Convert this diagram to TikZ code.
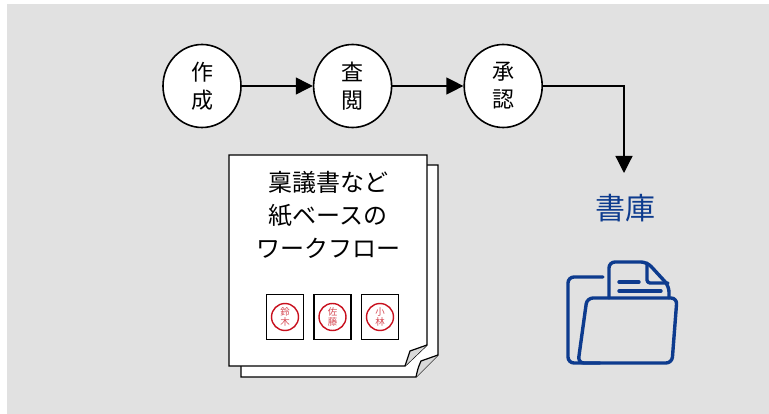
\documentclass[tikz,border=0pt]{standalone}
\usepackage{fontspec}
\setmainfont{Noto Sans CJK JP}
\usetikzlibrary{shapes.geometric, arrows.meta, positioning}
\definecolor{bggray}{HTML}{E1E1E1}
\definecolor{libblue}{HTML}{0D3B8E}
\definecolor{stampred}{HTML}{C8101E}
\tikzstyle{stage} = [ellipse, draw=black, line width=1.6pt, fill=white, minimum width=78pt, minimum height=83pt, inner sep=0pt, align=center, font=\fontsize{22}{28}\selectfont]
\tikzstyle{arrow} = [line width=1.2pt, -{Triangle[length=17pt, width=17pt]}]
\tikzstyle{sheet} = [draw=black, line width=1.3pt, fill=white, line join=miter]
\tikzstyle{curl} = [draw=black, line width=1.2pt, fill=gray!30]
\tikzstyle{seal} = [rectangle, draw=black, line width=1.5pt, fill=white, minimum width=37pt, minimum height=45pt, inner sep=0pt]
\tikzstyle{stamp} = [circle, draw=stampred, line width=1.4pt, minimum size=27pt, inner sep=0pt, align=center, text=stampred!75, font=\fontsize{9.5}{10.5}\selectfont]
\tikzstyle{folder} = [draw=libblue, line width=3.4pt, rounded corners=6pt, line cap=round, line join=round]

\begin{document}
\begin{tikzpicture}[x=1pt, y=-1pt]

    % Background
    \fill[bggray] (7,4) rectangle (769,414);
    \useasboundingbox (0,0) rectangle (769,414);

    % Nodes
    \node (create) [stage] at (202,86) {作\\成};
    \node (review) [stage, right=71pt of create] {査\\閲};
    \node (approve) [stage, right=71pt of review] {承\\認};

    \coordinate (drop) at (624,173);
    \node (library) [text=libblue, font=\fontsize{30}{32}\selectfont] at (625,208) {書庫};

    % Arrows
    \draw [arrow] (create) -- (review);
    \draw [arrow] (review) -- (approve);
    \draw [arrow] (approve) -| (drop);

    % Paper sheets (back one first)
    \draw [sheet] (241,165) -- (438,165) -- (438,355) -- (416,377) -- (241,377) -- cycle;
    \draw [curl] (438,355) -- (421,361) .. controls (418,368) .. (416,377);
    \draw [sheet] (229,155) -- (427,155) -- (427,345) -- (405,366) -- (229,366) -- cycle;
    \draw [curl] (427,345) -- (410,351) .. controls (407,358) .. (405,366);

    \node (note) [align=center, font=\fontsize{24}{33}\selectfont] at (328,215) {稟議書など\\紙ベースの\\ワークフロー};

    % Seals
    \node (seal1) [seal] at (285,317) {};
    \node (seal2) [seal, right=9pt of seal1] {};
    \node (seal3) [seal, right=9pt of seal2] {};
    \node (suzuki) [stamp] at (seal1) {鈴\\木};
    \node (sato) [stamp] at (seal2) {佐\\藤};
    \node (kobayashi) [stamp] at (seal3) {小\\林};

    % Folder icon
    \draw [folder] (603,277) -- (568,277) -- (568,363) -- (600,363);
    \draw [folder, fill=bggray] (609,298) -- (609,262) -- (647,262) -- (669,286) [sharp corners] -- (669,298);
    \draw [folder, rounded corners=3pt] (647,263) -- (647,283) -- (668,283);
    \draw [folder] (619,282) -- (639,282);
    \draw [folder] (619,291) -- (661,291);
    \draw [folder] (578,363) -- (587,298) -- (677,298) -- (672,363) -- cycle;

\end{tikzpicture}
\end{document}
